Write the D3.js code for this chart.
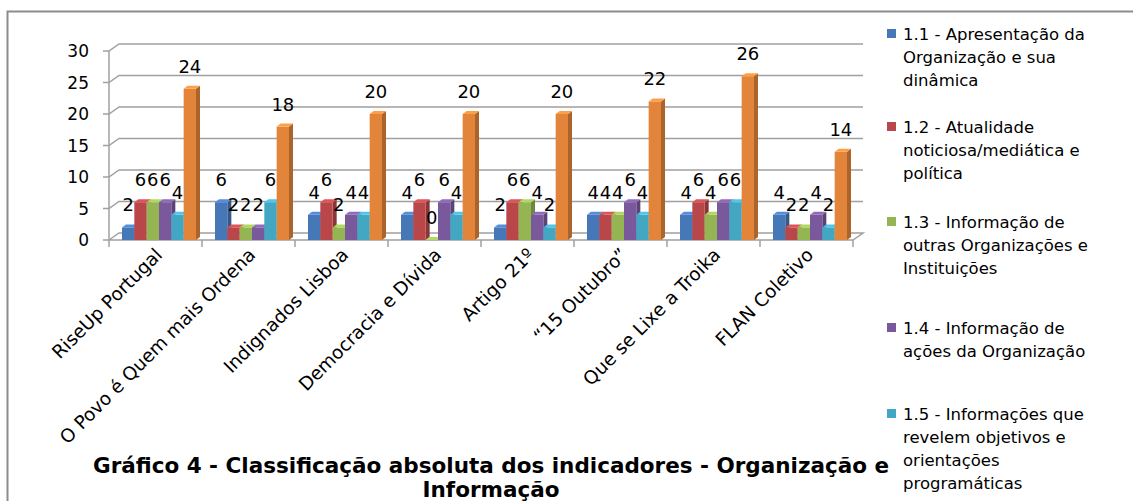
<!DOCTYPE html>
<html>
<head>
<meta charset="utf-8">
<script src="https://cdn.jsdelivr.net/npm/d3@7/dist/d3.min.js"></script>
<style>
  body { margin: 0; background: #fff; }
  text { font-family: "DejaVu Sans", sans-serif; }
</style>
</head>
<body>
<svg width="1133" height="501"></svg>
<script>
// dados do gráfico
const categorias = ["RiseUp Portugal", "O Povo é Quem mais Ordena", "Indignados Lisboa",
  "Democracia e Dívida", "Artigo 21º", "“15 Outubro”", "Que se Lixe a Troika", "FLAN Coletivo"];
const series = ["1.1", "1.2", "1.3", "1.4", "1.5", "1.6"];
const s11 = [2, 6, 4, 4, 2, 4, 4, 4];
const s12 = [6, 2, 6, 6, 6, 4, 6, 2];
const s13 = [6, 2, 2, 0, 6, 4, 4, 2];
const s14 = [6, 2, 4, 6, 4, 6, 6, 4];
const s15 = [4, 6, 4, 4, 2, 4, 6, 2];
const s16 = [24, 18, 20, 20, 20, 22, 26, 14];
const valores = [s11, s12, s13, s14, s15, s16];
const yTicks = [0, 5, 10, 15, 20, 25, 30];
const legenda = [
  ["1.1 - Apresentação da", "Organização e sua", "dinâmica"],
  ["1.2 - Atualidade", "noticiosa/mediática e", "política"],
  ["1.3 - Informação de", "outras Organizações e", "Instituições"],
  ["1.4 - Informação de", "ações da Organização"],
  ["1.5 - Informações que", "revelem objetivos e", "orientações", "programáticas"]
];

const cores = ["#4677b6", "#b9474a", "#94b552", "#79599c", "#43a6c2", "#e2853a"];

const svg = d3.select("svg");
const base = 240, dx = 10, dy = -7;   // profundidade da parede
const bdx = 4, bdy = -3;              // profundidade das barras

const y = d3.scaleLinear().domain([0, 30]).range([base, 51]);
const x0 = d3.scaleBand().domain(categorias).range([109, 853]);
const x1 = d3.scaleBand().domain(series).range([13, 87]);

// moldura
svg.append("path")
  .attr("d", "M1133,11.5 H7.5 V501")
  .attr("fill", "none").attr("stroke", "#8c8c8c").attr("stroke-width", 2);

// grelha
const grid = svg.append("g").attr("stroke", "#a0a0a0").attr("stroke-width", 1.5).attr("fill", "none");
yTicks.forEach(t => {
  const yy = y(t);
  if (t > 0) {
    grid.append("path").attr("d", `M103,${yy} H109 L${109 + dx},${yy + dy} H${853 + dx}`);
  } else {
    grid.append("path").attr("d", `M103,${yy} H853 L${853 + dx},${yy + dy} H${109 + dx} L109,${yy}`);
  }
});
grid.append("line").attr("x1", 109).attr("x2", 109).attr("y1", y(30)).attr("y2", base);
categorias.concat([null]).forEach((c, i) => {
  const xx = c ? x0(c) : 853;
  grid.append("line").attr("x1", xx).attr("x2", xx).attr("y1", base).attr("y2", base + 7);
});

// eixo y
svg.append("g").selectAll("text").data(yTicks).join("text")
  .attr("x", 89).attr("y", d => y(d) + 6)
  .attr("text-anchor", "end").attr("font-size", 17).text(d => d);

// barras 3D
const barras = svg.append("g");
categorias.forEach((c, i) => {
  series.forEach((s, j) => {
    const v = valores[j][i];
    const x = x0(c) + x1(s), w = x1.bandwidth(), top = y(v);
    const cor = d3.color(cores[j]);
    const g = barras.append("g");
    g.append("path")
      .attr("d", `M${x + w},${top} L${x + w + bdx},${top + bdy} V${base + bdy} L${x + w},${base} Z`)
      .attr("fill", cor.darker(0.8));
    g.append("rect").attr("x", x).attr("y", top).attr("width", w).attr("height", base - top)
      .attr("fill", cor);
    g.append("path")
      .attr("d", `M${x},${top} L${x + bdx},${top + bdy} H${x + w + bdx} L${x + w},${top} Z`)
      .attr("fill", cor.brighter(0.5));
  });
});

// rótulos de dados
const rotulos = svg.append("g").attr("font-size", 18).attr("text-anchor", "middle");
categorias.forEach((c, i) => {
  series.forEach((s, j) => {
    const v = valores[j][i];
    rotulos.append("text")
      .attr("x", x0(c) + x1(s) + x1.bandwidth() / 2)
      .attr("y", y(v) - 16)
      .text(v);
  });
});

// rótulos das categorias
svg.append("g").selectAll("text").data(categorias).join("text")
  .attr("transform", d => `translate(${x0(d) + x0.bandwidth() / 2 + 8},${base + 16}) rotate(-45)`)
  .attr("text-anchor", "end").attr("font-size", 18.5).text(d => d);

// legenda
const leg = svg.append("g");
const legY = [40, 133, 228, 334, 420];
legenda.forEach((linhas, i) => {
  leg.append("rect").attr("x", 887).attr("y", legY[i] - 11).attr("width", 9).attr("height", 9)
    .attr("fill", cores[i]);
  linhas.forEach((l, k) => {
    leg.append("text").attr("x", 903).attr("y", legY[i] + k * 23)
      .attr("font-size", 16.5).text(l);
  });
});

// título
const titulo = svg.append("g").attr("font-weight", "bold").attr("font-size", 21.5).attr("text-anchor", "middle");
titulo.append("text").attr("x", 491).attr("y", 473)
  .text("Gráfico 4 - Classificação absoluta dos indicadores - Organização e");
titulo.append("text").attr("x", 491).attr("y", 497).text("Informação");
</script>
</body>
</html>
